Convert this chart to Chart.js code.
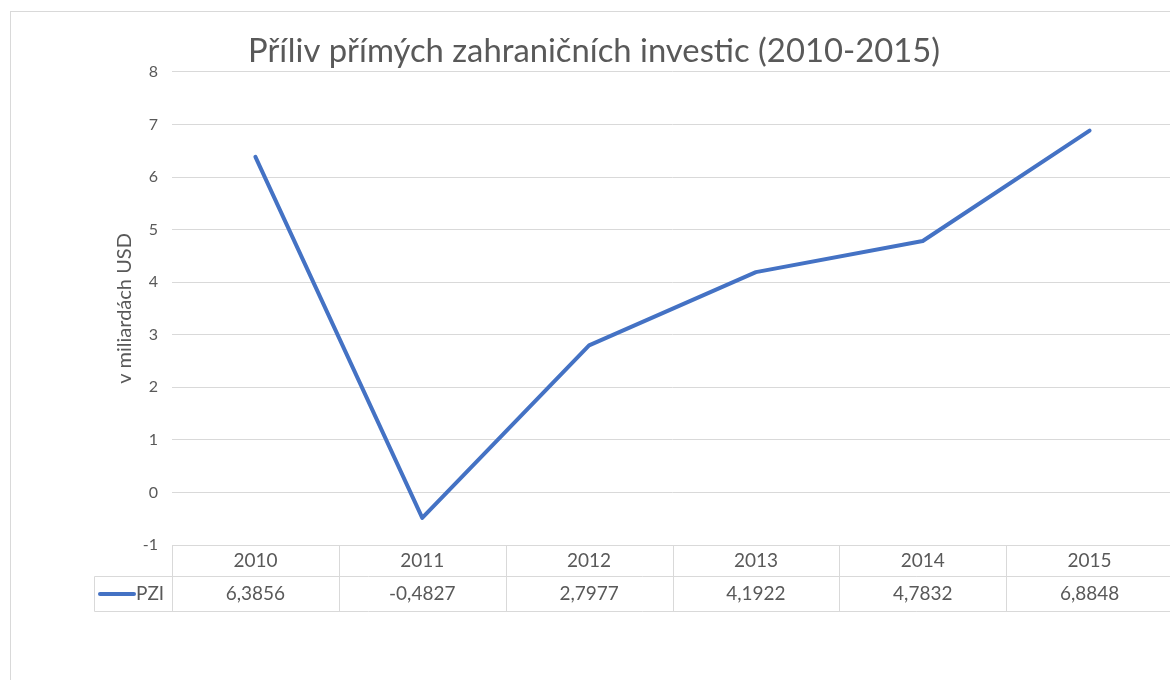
<!DOCTYPE html>
<html><head><meta charset="utf-8">
<script src="https://cdn.jsdelivr.net/npm/chart.js@4.4.1/dist/chart.umd.min.js"></script>
<style>
html,body{margin:0;padding:0;background:#fff;overflow:hidden;width:1170px;height:680px;}
#frame{position:absolute;left:10px;top:11px;width:1300px;height:800px;border:1px solid #d9d9d9;box-sizing:border-box;}
#wrap{position:absolute;left:0;top:0;width:1190px;height:680px;}
</style></head><body>
<div id="frame"></div>
<div id="wrap"><canvas id="c" width="1190" height="680"></canvas></div>
<script>
const categories = ['2010', '2011', '2012', '2013', '2014', '2015'];
const pziValues = [6.3856, -0.4827, 2.7977, 4.1922, 4.7832, 6.8848];
const seriesName = 'PZI';
const yMin = -1;
const yMax = 8;
const yStep = 1;
const chartTitle = 'Příliv přímých zahraničních investic (2010-2015)';
const yAxisTitle = 'v miliardách USD';

const FONT = 'Lato, Carlito, Calibri, sans-serif';
const TEXT = '#595959';
const GRID = '#d9d9d9';
const LINE = '#4472C4';

function fmt(v) { return v.toFixed(4).replace('.', ','); }

const tablePlugin = {
  id: 'dataTable',
  afterDraw(chart) {
    const ctx = chart.ctx;
    const xs = chart.scales.x;
    const area = chart.chartArea;
    const n = categories.length;
    const colW = (area.right - area.left) / n;
    const top = Math.round(area.bottom) + 0.5;
    const mid = top + 31;
    const bot = top + 66;
    const legendLeft = 94.5;
    ctx.save();
    ctx.strokeStyle = GRID;
    ctx.lineWidth = 1;
    const line = (x1, y1, x2, y2) => { ctx.beginPath(); ctx.moveTo(x1, y1); ctx.lineTo(x2, y2); ctx.stroke(); };
    line(area.left, top, area.right + 20, top);
    line(legendLeft, mid, area.right + 20, mid);
    line(legendLeft, bot, area.right + 20, bot);
    line(legendLeft, mid, legendLeft, bot);
    for (let i = 0; i <= n; i++) {
      const xb = Math.round(xs.getPixelForValue(0) - colW / 2 + i * colW) + 0.5;
      line(xb, top, xb, bot);
    }
    ctx.fillStyle = TEXT;
    ctx.font = '19px ' + FONT;
    ctx.textAlign = 'center';
    ctx.textBaseline = 'middle';
    categories.forEach((c, i) => {
      const cx = xs.getPixelForValue(i);
      ctx.fillText(c, cx, (top + mid) / 2);
      ctx.fillText(fmt(pziValues[i]), cx, (mid + bot) / 2);
    });
    // legend key
    ctx.strokeStyle = LINE;
    ctx.lineWidth = 4;
    ctx.lineCap = 'round';
    line(100, (mid + bot) / 2, 134, (mid + bot) / 2);
    ctx.textAlign = 'left';
    ctx.fillText(seriesName, 136, (mid + bot) / 2);
    ctx.restore();
  }
};

new Chart(document.getElementById('c'), {
  type: 'line',
  data: {
    labels: categories,
    datasets: [{
      label: seriesName,
      data: pziValues,
      borderColor: LINE,
      backgroundColor: LINE,
      borderWidth: 4,
      pointRadius: 0,
      tension: 0,
      borderCapStyle: 'round',
      borderJoinStyle: 'round',
      fill: false
    }]
  },
  options: {
    responsive: false,
    animation: false,
    devicePixelRatio: 1,
    layout: { padding: { left: 15, right: 17, top: 0, bottom: 135 } },
    plugins: {
      legend: { display: false },
      tooltip: { enabled: false },
      title: {
        display: true,
        text: chartTitle,
        color: TEXT,
        font: { family: FONT, size: 32.8, weight: 'normal', lineHeight: 1.2 },
        padding: { top: 32, bottom: 0.6 }
      }
    },
    scales: {
      x: {
        offset: true,
        grid: { display: false, drawTicks: false },
        border: { display: false },
        ticks: { display: false }
      },
      y: {
        min: yMin,
        max: yMax,
        afterFit(scale) { scale.width = 157; },
        ticks: { stepSize: yStep, color: TEXT, padding: 14, font: { family: FONT, size: 16 } },
        grid: { color: GRID, lineWidth: 1, drawTicks: false },
        border: { display: false },
        title: {
          display: true,
          text: yAxisTitle,
          color: TEXT,
          font: { family: FONT, size: 20 },
          padding: { top: 98, bottom: 0 }
        }
      }
    }
  },
  plugins: [tablePlugin]
});
</script>
</body></html>
